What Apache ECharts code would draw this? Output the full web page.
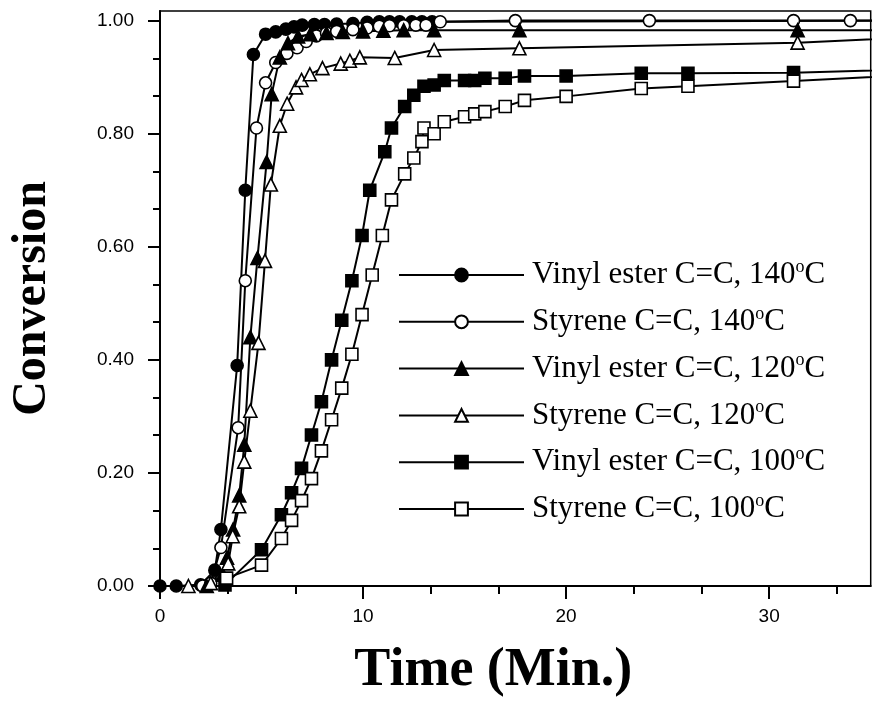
<!DOCTYPE html>
<html>
<head>
<meta charset="utf-8">
<script src="https://cdn.jsdelivr.net/npm/echarts@6/dist/echarts.min.js"></script>
<style>
  html, body { margin: 0; background: #fff; }
  #chart { width: 872px; height: 711px; }
</style>
</head>
<body>
<div id="chart"></div>
<script>
// conversion vs time, [min, conversion]
var ve140 = [[0, 0], [0.8, 0], [2.0, 0.002], [2.7, 0.028], [3.0, 0.10], [3.8, 0.39], [4.2, 0.70], [4.6, 0.94],
    [5.2, 0.976], [5.7, 0.98], [6.2, 0.985], [6.6, 0.989], [7.0, 0.992], [7.6, 0.993], [8.1, 0.993], [8.7, 0.994],
    [9.5, 0.995], [10.2, 0.997], [10.8, 0.998], [11.3, 0.998], [11.8, 0.998], [12.4, 0.998], [12.9, 0.998],
    [13.4, 0.998], [40, 1.0]];
var st140 = [[2.1, 0], [2.5, 0.005], [3.0, 0.068], [3.85, 0.28], [4.2, 0.54], [4.75, 0.81], [5.2, 0.89],
    [5.7, 0.926], [6.25, 0.942], [6.75, 0.952], [7.2, 0.963], [7.7, 0.973], [8.2, 0.978], [8.7, 0.981],
    [9.5, 0.984], [10.2, 0.987], [10.8, 0.99], [11.3, 0.991], [12.0, 0.991], [12.6, 0.992], [13.1, 0.992],
    [13.8, 0.998], [17.5, 1.0], [24.1, 1.0], [31.2, 1.0], [34.0, 1.0], [40, 1.0]];
var ve120 = [[2.3, 0], [3.1, 0.02], [3.3, 0.05], [3.6, 0.1], [3.9, 0.16], [4.15, 0.25], [4.45, 0.44],
    [4.8, 0.58], [5.25, 0.75], [5.5, 0.87], [5.9, 0.935], [6.3, 0.96], [6.8, 0.972], [7.4, 0.976],
    [8.2, 0.978], [9.0, 0.98], [10.0, 0.981], [11.0, 0.982], [12.0, 0.983], [13.5, 0.983], [17.7, 0.983],
    [31.4, 0.983], [40, 0.983]];
var st120 = [[1.4, 0], [2.5, 0.005], [3.36, 0.04], [3.58, 0.088], [3.9, 0.141], [4.15, 0.22], [4.45, 0.31],
    [4.85, 0.43], [5.17, 0.575], [5.46, 0.71], [5.9, 0.814], [6.26, 0.853], [6.7, 0.882], [6.97, 0.895],
    [7.38, 0.905], [8.0, 0.916], [8.9, 0.924], [9.35, 0.929], [9.84, 0.935], [11.56, 0.934], [13.5, 0.948],
    [17.7, 0.951], [31.4, 0.961], [40, 0.975]];
var ve100 = [[3.2, 0.002], [5.0, 0.064], [5.98, 0.126], [6.48, 0.165], [6.97, 0.208], [7.46, 0.267],
    [7.95, 0.326], [8.45, 0.40], [8.95, 0.47], [9.45, 0.54], [9.95, 0.62], [10.33, 0.70], [11.07, 0.768],
    [11.4, 0.81], [12.05, 0.848], [12.5, 0.868], [13.0, 0.884], [13.5, 0.886], [14.0, 0.894], [15.0, 0.894],
    [15.5, 0.894], [16.0, 0.898], [17.0, 0.898], [17.95, 0.902], [20.0, 0.902], [23.7, 0.907], [26.0, 0.907],
    [31.2, 0.908], [40, 0.917]];
var st100 = [[3.28, 0.014], [5.0, 0.037], [5.98, 0.084], [6.48, 0.116], [6.97, 0.151], [7.46, 0.19],
    [7.95, 0.239], [8.45, 0.294], [8.95, 0.35], [9.45, 0.41], [9.95, 0.48], [10.45, 0.55], [10.95, 0.62],
    [11.4, 0.683], [12.05, 0.729], [12.5, 0.757], [12.9, 0.786], [13.0, 0.81], [13.5, 0.80], [14.0, 0.821],
    [15.0, 0.83], [15.5, 0.835], [16.0, 0.839], [17.0, 0.848], [17.95, 0.859], [20.0, 0.866], [23.7, 0.88],
    [26.0, 0.884], [31.2, 0.893], [40, 0.91]];

var names = ['Vinyl ester C=C, 140°C', 'Styrene C=C, 140°C', 'Vinyl ester C=C, 120°C',
    'Styrene C=C, 120°C', 'Vinyl ester C=C, 100°C', 'Styrene C=C, 100°C'];
var xTicks = [0, 10, 20, 30];
var xMinor = [3.333, 6.667, 13.333, 16.667, 23.333, 26.667, 33.333];
var yTicks = [0, 0.2, 0.4, 0.6, 0.8, 1.0];
var yMinor = [0.0667, 0.1333, 0.2667, 0.3333, 0.4667, 0.5333, 0.6667, 0.7333, 0.8667, 0.9333];

function mk(name, data, symbol, size, filled) {
    return {
        name: name,
        type: 'line',
        data: data,
        symbol: symbol,
        symbolSize: size,
        showAllSymbol: true,
        lineStyle: { color: '#000', width: 2 },
        itemStyle: { color: filled ? '#000' : '#fff', borderColor: '#000', borderWidth: 1.6 }
    };
}

var chart = echarts.init(document.getElementById('chart'));
var option = {
    animation: false,
    backgroundColor: '#fff',
    grid: {
        left: 160, right: 1.3, top: 11, bottom: 125,
        outerBoundsMode: 'none',
        show: true, borderColor: '#000', borderWidth: 1.5
    },
    legend: {
        orient: 'vertical',
        left: 393, top: 253,
        itemWidth: 125, itemHeight: 16, itemGap: 12.8,
        data: names,
        formatter: function (n) { return n.replace('°C', '{sup|o}C'); },
        textStyle: {
            color: '#000', fontFamily: 'Liberation Serif', fontSize: 31, lineHeight: 34,
            padding: [0, 0, 0, 3],
            rich: { sup: { fontFamily: 'Liberation Serif', fontSize: 18, color: '#000', verticalAlign: 'top', lineHeight: 34 } }
        }
    },
    xAxis: [{
        type: 'value', min: 0, max: 35, interval: 10,
        name: 'Time (Min.)', nameLocation: 'middle', nameGap: 58,
        nameTextStyle: { fontFamily: 'Liberation Serif', fontWeight: 'bold', fontSize: 54, color: '#000', padding: [0, 44, 0, 0] },
        splitLine: { show: false },
        axisLine: { lineStyle: { color: '#000', width: 2 } },
        axisTick: { customValues: xTicks, length: 13, lineStyle: { color: '#000', width: 2 } },
        axisLabel: { customValues: xTicks, margin: 21, fontFamily: 'Liberation Sans', fontSize: 19, color: '#000' }
    }, {
        type: 'value', min: 0, max: 35, position: 'bottom',
        splitLine: { show: false },
        axisLine: { show: false },
        axisTick: { customValues: xMinor, length: 8, lineStyle: { color: '#000', width: 2 } },
        axisLabel: { show: false }
    }],
    yAxis: [{
        type: 'value', min: 0, max: 1.017,
        name: 'Conversion', nameLocation: 'middle', nameGap: 103, nameRotate: 90,
        nameTextStyle: { fontFamily: 'Liberation Serif', fontWeight: 'bold', fontSize: 48, color: '#000' },
        splitLine: { show: false },
        axisLine: { lineStyle: { color: '#000', width: 2 } },
        axisTick: { customValues: yTicks, length: 12, lineStyle: { color: '#000', width: 2 } },
        axisLabel: {
            customValues: yTicks, margin: 26, fontFamily: 'Liberation Sans', fontSize: 19, color: '#000',
            formatter: function (v) { return v.toFixed(2); }
        }
    }, {
        type: 'value', min: 0, max: 1.017, position: 'left',
        splitLine: { show: false },
        axisLine: { show: false },
        axisTick: { customValues: yMinor, length: 7, lineStyle: { color: '#000', width: 2 } },
        axisLabel: { show: false }
    }],
    series: [
        mk(names[0], ve140, 'circle', 12, true),
        mk(names[1], st140, 'circle', 12, false),
        mk(names[2], ve120, 'triangle', 13, true),
        mk(names[3], st120, 'triangle', 13, false),
        mk(names[4], ve100, 'rect', 12, true),
        mk(names[5], st100, 'rect', 12, false)
    ]
};
chart.setOption(option);
</script>
</body>
</html>
